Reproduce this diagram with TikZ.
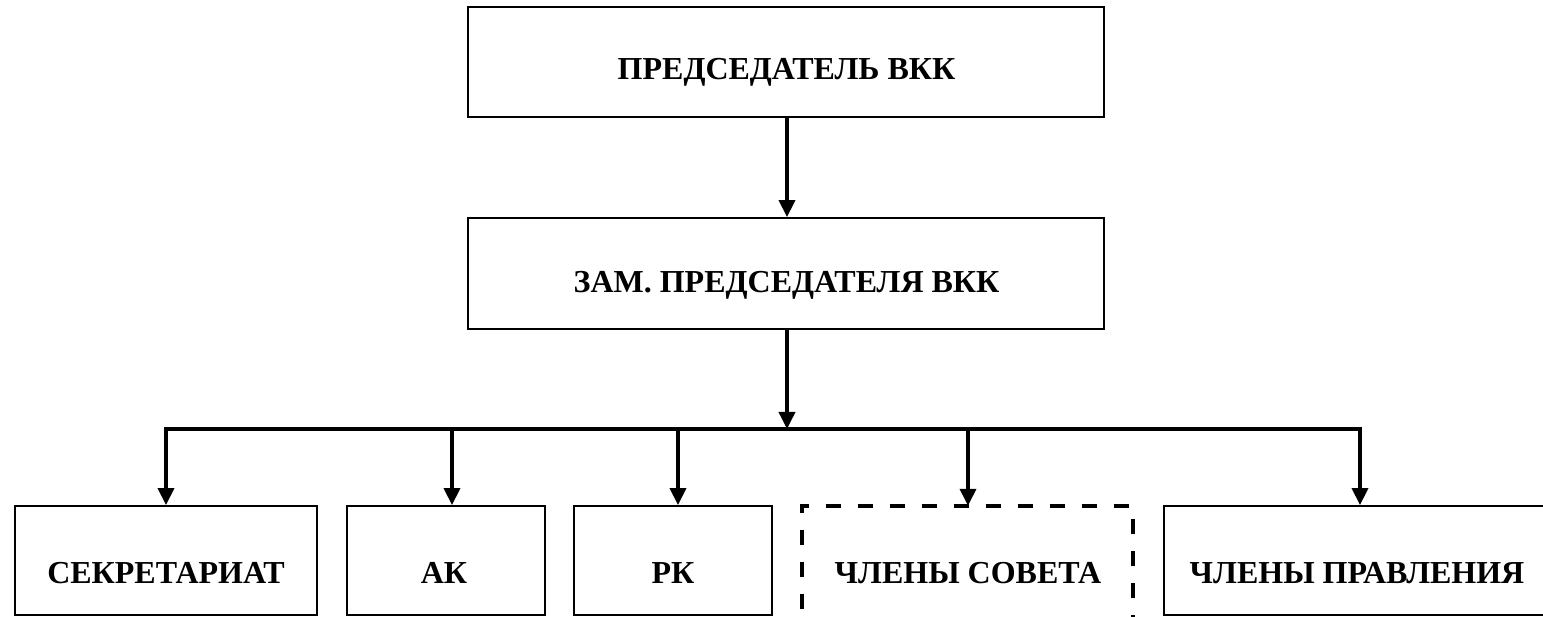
\documentclass[tikz,border=0pt]{standalone}
\usepackage{fontspec}
\setmainfont{Liberation Serif}
\usetikzlibrary{arrows.meta}
\begin{document}
\begin{tikzpicture}[x=1pt,y=-1pt,
  box/.style={draw, line width=1.8pt, inner sep=0pt, rectangle},
  dline/.style={line width=4.5pt, line join=miter, dash pattern=on 15pt off 17pt, dash phase=17pt},
  lbl/.style={font=\fontsize{32}{36}\selectfont\bfseries, anchor=base, inner sep=0pt},
  arr/.style={line width=3.6pt, -{Triangle[width=16pt,length=17pt]}},
  tip/.style={line width=3.6pt, line join=miter, {Triangle[width=16pt,length=17pt]}-{Triangle[width=16pt,length=17pt]}},
]
\useasboundingbox (0,0) rectangle (1543,617);
\clip (0,0) rectangle (1543,617);

% boxes
\node[box, minimum width=636pt, minimum height=110pt] (top) at (786,62) {};
\node[box, minimum width=636pt, minimum height=111pt] (mid) at (786,273.5) {};
\node[box, minimum width=302pt, minimum height=109pt] (sec) at (166,560.5) {};
\node[box, minimum width=198pt, minimum height=109pt] (ak) at (446,560.5) {};
\node[box, minimum width=198pt, minimum height=109pt] (rk) at (673,560.5) {};
\node[inner sep=0pt, rectangle, minimum width=331pt, minimum height=150pt] (cs) at (967.5,581) {};
\draw[dline] (cs.south west) -- (cs.north west) -- (cs.north east) -- (cs.south east);
\node[box, minimum width=396pt, minimum height=109pt] (last) at (1362,560.5) {};

% labels
\node[lbl] (ttop) at (786.5,80) {ПРЕДСЕДАТЕЛЬ ВКК};
\node[lbl] (tmid) at (786.5,293) {ЗАМ. ПРЕДСЕДАТЕЛЯ ВКК};
\node[lbl] (tsec) at (166,583) {СЕКРЕТАРИАТ};
\node[lbl] (tak) at (444,583) {АК};
\node[lbl] (trk) at (673,583) {РК};
\node[lbl] (tcs) at (968,583) {ЧЛЕНЫ СОВЕТА};
\node[lbl] (tlast) at (1357,583) {ЧЛЕНЫ ПРАВЛЕНИЯ};

% connectors
\coordinate (bus) at (787,429);
\draw[arr] (top.south -| bus) -- (mid.north -| bus);
\draw[arr] (mid.south -| bus) -- (bus);
\draw[tip] (sec.north) -- (sec.north |- bus) -- ([xshift=-2pt]last.north |- bus) -- ([xshift=-2pt]last.north);
\draw[arr] ([xshift=6pt]ak.north |- bus) -- ([xshift=6pt]ak.north);
\draw[arr] ([xshift=5pt]rk.north |- bus) -- ([xshift=5pt]rk.north);
\draw[arr] ([xshift=0.5pt]cs.north |- bus) -- ([xshift=0.5pt]cs.north);
\end{tikzpicture}
\end{document}
